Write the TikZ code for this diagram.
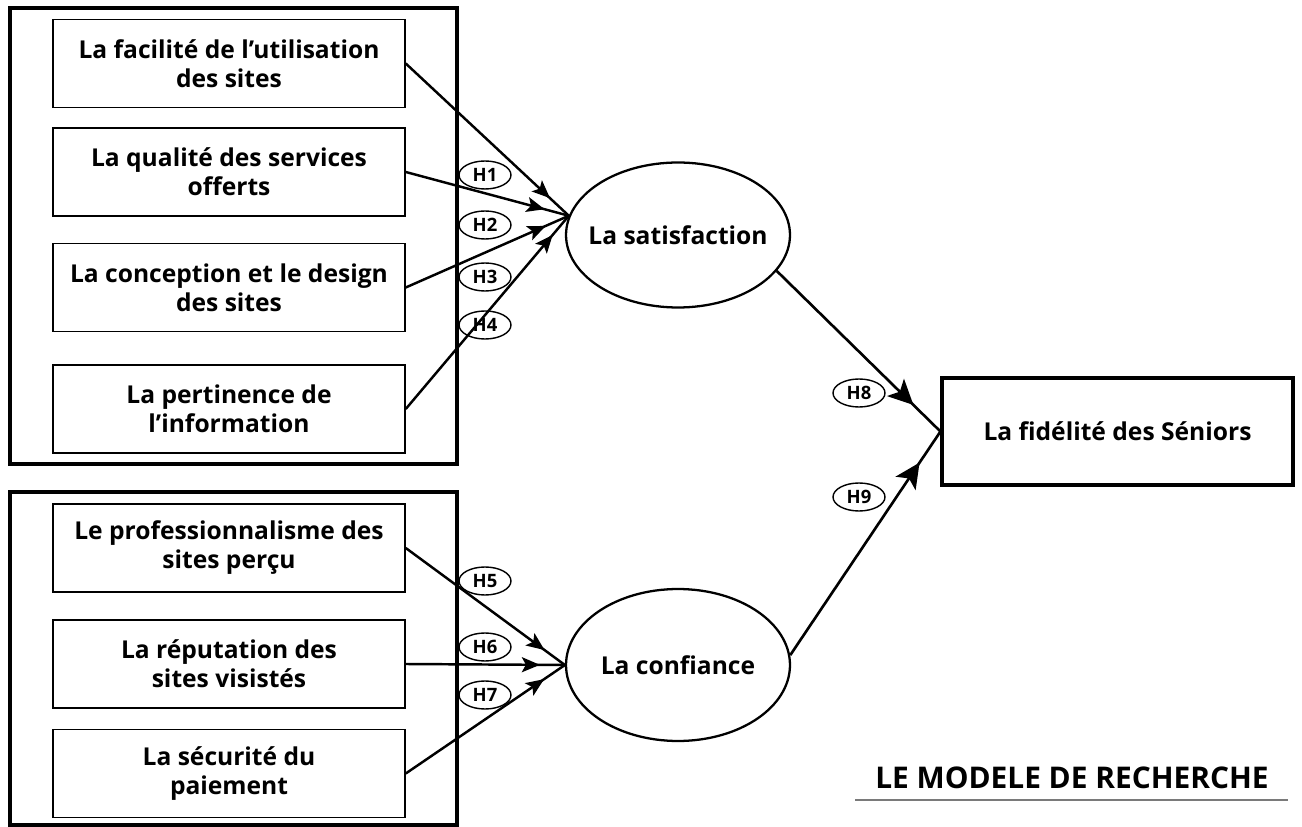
\documentclass[tikz,border=0pt]{standalone}
\usepackage{fontspec}
\setmainfont{Open Sans}
\usepackage{xcolor}
\usepackage{tikz}
\usetikzlibrary{arrows.meta,positioning,shapes.geometric,decorations.markings}
\definecolor{MRRule}{HTML}{7A7A7A}
\newcommand{\boxfont}{\bfseries\fontsize{14}{16.5}\selectfont}

\begin{document}
\begin{tikzpicture}[
    x=0.02cm,y=-0.02cm,
    frame/.style={line width=1.8pt},
    item/.style={draw, line width=0.9pt, minimum width=7.04cm,
      minimum height=1.76cm, align=center, inner sep=2pt, font=\boxfont},
    construct/.style={ellipse, draw, line width=1.3pt, minimum width=4.48cm,
      minimum height=2.9cm, inner xsep=-7.5pt, inner ysep=0pt, font=\boxfont},
    outcome/.style={draw, line width=1.8pt, minimum width=7.02cm,
      minimum height=2.14cm, font=\boxfont},
    hyp/.style={ellipse, draw, line width=0.8pt, minimum width=1.04cm,
      minimum height=0.56cm, inner sep=0pt, font=\bfseries\fontsize{10.5}{10.5}\selectfont},
    link/.style={line width=1.4pt, postaction={decorate},
      decoration={markings, mark=at position -0.5cm with
        {\arrow{Stealth[length=3.6mm,width=3mm,inset=0.8mm]}}}},
    biglink/.style={line width=1.5pt, postaction={decorate},
      decoration={markings, mark=at position -0.75cm with
        {\arrow{Stealth[length=5mm,width=4.8mm,inset=1.2mm]}}}}
  ]
    \useasboundingbox (0,0) rectangle (1302,827);

    % les deux cadres
    \draw[frame] (10,8) rectangle (457,464);
    \draw[frame] (10,492) rectangle (457,825);

    % antecedents
    \node[item] (fac) at (229,63.5) {La facilité de l’utilisation\\des sites};
    \node[item] (qual) at (229,172) {La qualité des services\\offerts};
    \node[item] (conc) at (229,287.5) {La conception et le design\\des sites};
    \node[item] (pert) at (229,409) {La pertinence de\\l’information};

    \node[item] (prof) at (229,548) {Le professionnalisme des\\sites perçu};
    \node[item] (rep) at (229,664) {La réputation des\\sites visistés};
    \node[item] (secu) at (229,773.5) {La sécurité du\\paiement};

    % variables mediatrices et finale
    \node[construct] (sat) at (678,235) {La satisfaction};
    \node[construct, minimum height=3.04cm] (conf) at (678,665) {La confiance};
    \node[outcome] (fid) at (1117.5,431.5) {La fidélité des Séniors};

    \draw[link] (fac.east) -- (sat.170);
    \draw[link] (qual.east) -- (sat.170);
    \draw[link] (conc.east) -- (sat.170);
    \draw[link] (pert.east) -- (sat.170);

    \draw[link] (prof.east) -- (conf.west);
    \draw[link] (rep.east) -- (conf.west);
    \draw[link] (secu.east) -- (conf.west);

    \draw[biglink] (sat.-20) -- (fid.west);
    \draw[biglink] (conf.5) -- (fid.west);

    % hypotheses
    \node[hyp] (h1) at (485,175) {H1};
    \node[hyp] (h2) at (485,225) {H2};
    \node[hyp] (h3) at (485,277) {H3};
    \node[hyp] (h4) at (485,325) {H4};
    \node[hyp] (h5) at (485,581) {H5};
    \node[hyp] (h6) at (485,647) {H6};
    \node[hyp] (h7) at (485,695) {H7};
    \node[hyp] (h8) at (859,393) {H8};
    \node[hyp] (h9) at (859,497) {H9};

    \node[font=\bfseries\fontsize{17}{19}\selectfont] (title) at (1072,778)
      {LE MODELE DE RECHERCHE};
    \draw[MRRule, line width=1pt] (855,800) -- (1288,800);
  \end{tikzpicture}
\end{document}
